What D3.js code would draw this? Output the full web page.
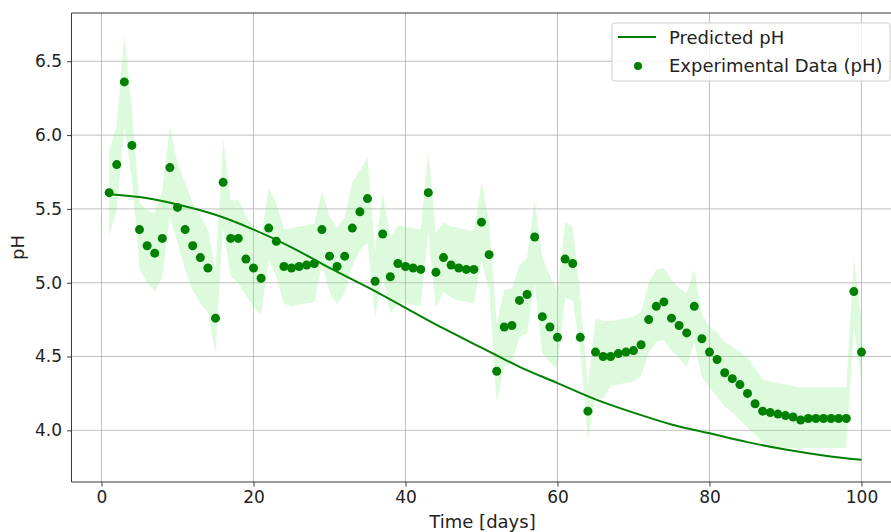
<!DOCTYPE html>
<meta charset="utf-8">
<script src="https://d3js.org/d3.v7.min.js"></script>
<style>
  body { margin: 0; background: #fff; }
  text { font-family: "DejaVu Sans", sans-serif; fill: #222; }
</style>
<body>
<div id="my_dataviz"></div>
<script>
// measured values (days 1..100)
var days = d3.range(1, 101);

var measuredPH = [
  5.61, 5.80, 6.36, 5.93, 5.36, 5.25, 5.20, 5.30, 5.78, 5.51,
  5.36, 5.25, 5.17, 5.10, 4.76, 5.68, 5.30, 5.30, 5.16, 5.10,
  5.03, 5.37, 5.28, 5.11, 5.10, 5.11, 5.12, 5.13, 5.36, 5.18,
  5.11, 5.18, 5.37, 5.48, 5.57, 5.01, 5.33, 5.04, 5.13, 5.11,
  5.10, 5.09, 5.61, 5.07, 5.17, 5.12, 5.10, 5.09, 5.09, 5.41,
  5.19, 4.40, 4.70, 4.71, 4.88, 4.92, 5.31, 4.77, 4.70, 4.63,
  5.16, 5.13, 4.63, 4.13, 4.53, 4.50, 4.50, 4.52, 4.53, 4.54,
  4.58, 4.75, 4.84, 4.87, 4.76, 4.71, 4.66, 4.84, 4.62, 4.53,
  4.48, 4.39, 4.35, 4.31, 4.25, 4.18, 4.13, 4.12, 4.11, 4.10,
  4.09, 4.07, 4.08, 4.08, 4.08, 4.08, 4.08, 4.08, 4.94, 4.53
];

var bandUpper = [
  5.89, 6.07, 6.68, 6.17, 5.54, 5.49, 5.47, 5.63, 6.06, 5.81,
  5.68, 5.54, 5.45, 5.36, 5.09, 5.97, 5.56, 5.56, 5.45, 5.38,
  5.31, 5.64, 5.54, 5.36, 5.37, 5.38, 5.39, 5.40, 5.62, 5.45,
  5.37, 5.44, 5.68, 5.76, 5.85, 5.22, 5.61, 5.31, 5.39, 5.38,
  5.37, 5.36, 5.89, 5.34, 5.41, 5.38, 5.37, 5.36, 5.35, 5.68,
  5.42, 4.73, 4.95, 4.96, 5.12, 5.17, 5.56, 5.17, 5.05, 4.93,
  5.41, 5.38, 4.91, 4.30, 4.76, 4.74, 4.74, 4.75, 4.76, 4.77,
  4.80, 5.00, 5.09, 5.10, 5.02, 4.96, 4.93, 5.09, 4.79, 4.70,
  4.66, 4.60, 4.57, 4.53, 4.49, 4.42, 4.35, 4.33, 4.32, 4.31,
  4.30, 4.29, 4.29, 4.29, 4.29, 4.29, 4.29, 4.29, 5.18, 4.74
];

var bandLower = [
  5.32, 5.49, 6.05, 5.70, 5.09, 5.00, 4.94, 5.04, 5.45, 5.27,
  5.09, 4.95, 4.86, 4.80, 4.52, 5.38, 5.04, 5.00, 4.91, 4.84,
  4.78, 5.15, 5.04, 4.86, 4.84, 4.85, 4.86, 4.87, 5.12, 4.94,
  4.85, 4.93, 5.11, 5.22, 5.27, 4.77, 5.04, 4.79, 4.87, 4.86,
  4.85, 4.84, 5.34, 4.83, 4.94, 4.90, 4.88, 4.87, 4.86, 5.15,
  4.95, 4.19, 4.43, 4.46, 4.63, 4.66, 5.00, 4.52, 4.46, 4.41,
  4.90, 4.88, 4.54, 3.93, 4.23, 4.21, 4.30, 4.31, 4.32, 4.33,
  4.37, 4.52, 4.60, 4.61, 4.54, 4.49, 4.43, 4.59, 4.36, 4.29,
  4.23, 4.16, 4.12, 4.07, 4.02, 3.97, 3.92, 3.90, 3.89, 3.88,
  3.88, 3.88, 3.88, 3.88, 3.88, 3.88, 3.88, 3.88, 4.70, 4.33
];

// predicted curve, read every 5 days
var predDays = [1, 5, 10, 15, 20, 25, 30, 35, 40, 45, 50, 55, 60, 65, 70, 75, 80, 85, 90, 95, 100];
var predPH   = [5.60, 5.58, 5.53, 5.46, 5.36, 5.24, 5.10, 4.97, 4.83, 4.69, 4.56, 4.43, 4.32, 4.21, 4.12, 4.04, 3.98, 3.92, 3.87, 3.83, 3.80];

var xTicks = [0, 20, 40, 60, 80, 100];
var yTicks = [4.0, 4.5, 5.0, 5.5, 6.0, 6.5];

var W = 891, H = 532;
var margin = {top: 13, left: 71.5, bottom: 482};
var fs = 17;

var svg = d3.select("#my_dataviz")
  .append("svg")
    .attr("width", W)
    .attr("height", H);

var x = d3.scaleLinear().domain([-3.95, 104.95]).range([margin.left, margin.left + 827.6]);
var y = d3.scaleLinear().domain([3.65, 6.827]).range([margin.bottom, margin.top]);

svg.append("clipPath").attr("id", "plotclip")
  .append("rect")
    .attr("x", x.range()[0]).attr("y", margin.top)
    .attr("width", x.range()[1] - x.range()[0])
    .attr("height", margin.bottom - margin.top);

// grid
var grid = svg.append("g");
grid.selectAll(".gx").data(xTicks).enter().append("line")
  .attr("x1", function(d) { return x(d); }).attr("x2", function(d) { return x(d); })
  .attr("y1", margin.top).attr("y2", margin.bottom)
  .attr("stroke", "#b0b0b0").attr("stroke-width", 0.8);
grid.selectAll(".gy").data(yTicks).enter().append("line")
  .attr("x1", x.range()[0]).attr("x2", x.range()[1])
  .attr("y1", function(d) { return y(d); }).attr("y2", function(d) { return y(d); })
  .attr("stroke", "#b0b0b0").attr("stroke-width", 0.8);

var plot = svg.append("g").attr("clip-path", "url(#plotclip)");

// shaded band
plot.append("path")
  .datum(days)
  .attr("fill", "#90ee90")
  .attr("fill-opacity", 0.3)
  .attr("d", d3.area()
    .x(function(d, i) { return x(d); })
    .y0(function(d, i) { return y(bandLower[i]); })
    .y1(function(d, i) { return y(bandUpper[i]); }));

// predicted line
plot.append("path")
  .datum(predDays)
  .attr("fill", "none")
  .attr("stroke", "green")
  .attr("stroke-width", 2)
  .attr("d", d3.line()
    .curve(d3.curveMonotoneX)
    .x(function(d) { return x(d); })
    .y(function(d, i) { return y(predPH[i]); }));

// measured points
plot.selectAll("circle").data(days).enter().append("circle")
  .attr("cx", function(d) { return x(d); })
  .attr("cy", function(d, i) { return y(measuredPH[i]); })
  .attr("r", 4.5)
  .attr("fill", "green");

// spines
svg.append("line").attr("x1", x.range()[0]).attr("x2", x.range()[0])
  .attr("y1", margin.top).attr("y2", margin.bottom).attr("stroke", "#222").attr("stroke-width", 0.9);
svg.append("line").attr("x1", x.range()[0]).attr("x2", x.range()[1])
  .attr("y1", margin.bottom).attr("y2", margin.bottom).attr("stroke", "#222").attr("stroke-width", 0.9);
svg.append("line").attr("x1", x.range()[0]).attr("x2", x.range()[1])
  .attr("y1", margin.top).attr("y2", margin.top).attr("stroke", "#222").attr("stroke-width", 0.9);

// axes
var xAxis = svg.append("g")
  .attr("transform", "translate(0," + margin.bottom + ")")
  .call(d3.axisBottom(x).tickValues(xTicks).tickSize(4.5).tickPadding(4).tickFormat(d3.format("d")));
var yAxis = svg.append("g")
  .attr("transform", "translate(" + x.range()[0] + ",0)")
  .call(d3.axisLeft(y).tickValues(yTicks).tickSize(4.5).tickPadding(5).tickFormat(d3.format(".1f")));
[xAxis, yAxis].forEach(function(a) {
  a.select(".domain").remove();
  a.selectAll("line").attr("stroke", "#222").attr("stroke-width", 0.9);
  a.selectAll("text").attr("font-size", fs).attr("font-family", "DejaVu Sans").attr("fill", "#222");
});

// axis labels
svg.append("text").attr("x", x(50) + 1).attr("y", 528)
  .attr("text-anchor", "middle").attr("font-size", 18).text("Time [days]");
svg.append("text").attr("transform", "translate(24," + ((margin.top + margin.bottom) / 2) + ") rotate(-90)")
  .attr("text-anchor", "middle").attr("font-size", 18).text("pH");

// legend
var lg = svg.append("g").attr("transform", "translate(612,23)");
lg.append("rect").attr("width", 278).attr("height", 58).attr("rx", 3)
  .attr("fill", "#fff").attr("fill-opacity", 0.8).attr("stroke", "#ccc");
lg.append("line").attr("x1", 6).attr("x2", 44).attr("y1", 14).attr("y2", 14)
  .attr("stroke", "green").attr("stroke-width", 2);
lg.append("circle").attr("cx", 26).attr("cy", 43).attr("r", 4).attr("fill", "green");
lg.append("text").attr("x", 57).attr("y", 21).attr("font-size", 18).text("Predicted pH");
lg.append("text").attr("x", 57).attr("y", 49).attr("font-size", 18).text("Experimental Data (pH)");
</script>
</body>
